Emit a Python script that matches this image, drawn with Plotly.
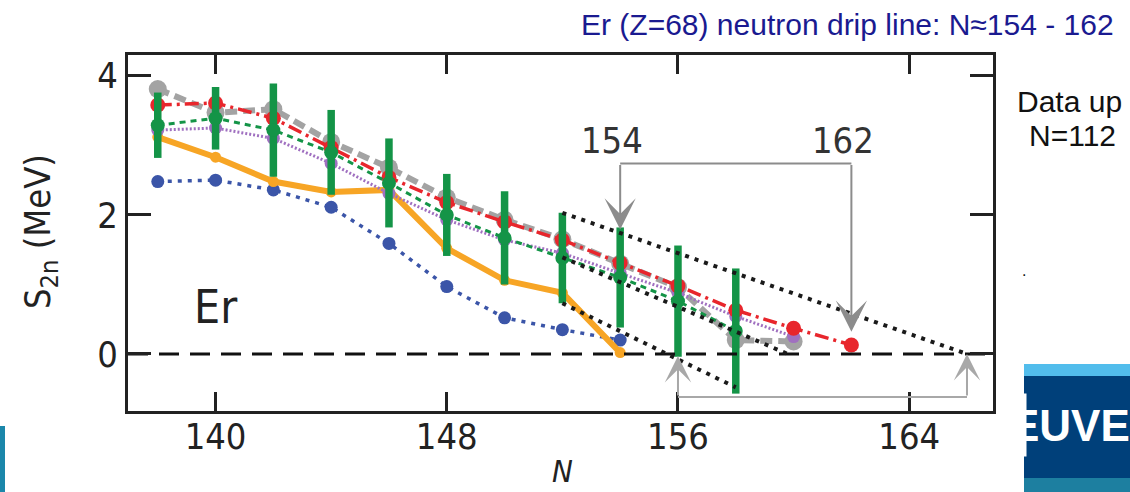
import plotly.graph_objects as go

# ---------------- data ----------------
N_gray = [138, 140, 142, 144, 146, 148, 150, 152, 154, 156, 158, 160]
S_gray = [3.81, 3.47, 3.52, 3.05, 2.68, 2.25, 1.93, 1.65, 1.30, 0.96, 0.20, 0.18]

N_red = [138, 140, 142, 144, 146, 148, 150, 152, 154, 156, 158, 160, 162]
S_red = [3.58, 3.61, 3.39, 2.97, 2.54, 2.18, 1.90, 1.64, 1.31, 0.98, 0.63, 0.37, 0.13]

N_purple = [138, 140, 142, 144, 146, 148, 150, 152, 154, 156, 158, 160]
S_purple = [3.22, 3.25, 3.10, 2.74, 2.31, 1.93, 1.64, 1.45, 1.16, 0.88, 0.54, 0.25]

N_green = [138, 140, 142, 144, 146, 148, 150, 152, 154, 156, 158]
S_green = [3.29, 3.39, 3.22, 2.90, 2.46, 2.00, 1.67, 1.38, 1.10, 0.76, 0.33]
E_green = [0.47, 0.45, 0.67, 0.61, 0.64, 0.59, 0.67, 0.65, 0.72, 0.80, 0.90]

N_orange = [138, 140, 142, 144, 146, 148, 150, 152, 154]
S_orange = [3.12, 2.83, 2.48, 2.33, 2.36, 1.52, 1.06, 0.88, 0.02]

N_blue = [138, 140, 142, 144, 146, 148, 150, 152, 154]
S_blue = [2.48, 2.50, 2.36, 2.11, 1.59, 0.97, 0.52, 0.35, 0.20]

# extrapolation lines (black dotted)
upper_N = [152, 166]
upper_S = [2.03, 0.0]
middle_N = [152, 159.8]
middle_S = [1.39, 0.0]
lower_N = [152, 158]
lower_S = [0.73, -0.48]

# drip-line arrows
drip_N = [154, 162]
drip_tip_S = [1.79, 0.32]
drip_bracket_S = 2.74
cross_N = [156, 166]
cross_tip_S = [-0.03, 0.0]
cross_bracket_S = -0.62

x_ticks = [140, 148, 156, 164]
y_ticks = [0, 2, 4]
x_range = [136.97, 166.9]
y_range = [-0.82, 4.30]

# ---------------- layout geometry ----------------
W, H = 1130, 492
L, R, T, B = 128, 993, 55, 411


def px(x):
    return (x - L) / (R - L)


def py(y):
    return (B - y) / (B - T)


NARROW = "Liberation Sans Narrow, Arial Narrow, DejaVu Sans Condensed, Arial, sans-serif"
SANS = "Liberation Sans, Arial, sans-serif"

fig = go.Figure()

# gray
fig.add_trace(go.Scatter(x=N_gray, y=S_gray, mode="lines+markers",
                         line=dict(color="#a3a3a3", width=6, dash="12px,6px"),
                         marker=dict(size=18, color="#a3a3a3"), showlegend=False))
# blue
fig.add_trace(go.Scatter(x=N_blue, y=S_blue, mode="lines+markers",
                         line=dict(color="#3b55a8", width=3.5, dash="4px,6px"),
                         marker=dict(size=13, color="#3b55a8"), showlegend=False))
# orange
fig.add_trace(go.Scatter(x=N_orange, y=S_orange, mode="lines+markers",
                         line=dict(color="#f7a525", width=6),
                         marker=dict(size=11, color="#f7a525"), showlegend=False))
# purple
fig.add_trace(go.Scatter(x=N_purple, y=S_purple, mode="lines+markers",
                         line=dict(color="#a070c0", width=3, dash="2px,2px"),
                         marker=dict(size=13, color="#a070c0"), showlegend=False))
# red
fig.add_trace(go.Scatter(x=N_red, y=S_red, mode="lines+markers",
                         line=dict(color="#e8262c", width=3.5, dash="14px,5px,3px,5px"),
                         marker=dict(size=15, color="#e8262c"), showlegend=False))
# green with error bars
fig.add_trace(go.Scatter(x=N_green, y=S_green, mode="lines+markers",
                         line=dict(color="#149447", width=3, dash="6px,5px"),
                         marker=dict(size=14, color="#149447"),
                         error_y=dict(type="data", array=E_green, color="#149447",
                                      thickness=7.5, width=0),
                         showlegend=False))

# zero line
fig.add_trace(go.Scatter(x=x_range, y=[0, 0], mode="lines",
                         line=dict(color="#111", width=3, dash="20px,11px"),
                         showlegend=False, hoverinfo="skip"))

# black dotted extrapolation lines
for xs, ys in [(upper_N, upper_S), (middle_N, middle_S), (lower_N, lower_S)]:
    fig.add_trace(go.Scatter(x=xs, y=ys, mode="lines",
                             line=dict(color="#1a1a1a", width=4, dash="4px,6px"),
                             showlegend=False, hoverinfo="skip"))

shapes = []
annotations = []

# brackets
shapes.append(dict(type="line", xref="x", yref="y", x0=drip_N[0], x1=drip_N[1],
                   y0=drip_bracket_S, y1=drip_bracket_S,
                   line=dict(color="#8c8c8c", width=2)))
shapes.append(dict(type="line", xref="x", yref="y", x0=cross_N[0], x1=cross_N[1],
                   y0=cross_bracket_S, y1=cross_bracket_S,
                   line=dict(color="#a8a8a8", width=2)))

for n, tip in zip(drip_N, drip_tip_S):
    annotations.append(dict(x=n, y=tip, xref="x", yref="y", axref="x", ayref="y",
                            ax=n, ay=drip_bracket_S, text="", showarrow=True,
                            arrowhead=3, arrowsize=2.6, arrowwidth=2,
                            arrowcolor="#8c8c8c"))
    annotations.append(dict(x=n - 0.3, y=3.07, xref="x", yref="y", text=str(n),
                            xanchor="center", yanchor="middle",
                            showarrow=False, font=dict(family=NARROW, size=36, color="#333")))
for n, tip in zip(cross_N, cross_tip_S):
    annotations.append(dict(x=n, y=tip, xref="x", yref="y", axref="x", ayref="y",
                            ax=n, ay=cross_bracket_S, text="", showarrow=True,
                            arrowhead=3, arrowsize=2.2, arrowwidth=2,
                            arrowcolor="#a8a8a8"))

# Er label
annotations.append(dict(x=139.2, y=0.67, xref="x", yref="y", xanchor="left", yanchor="middle",
                        text="Er", showarrow=False,
                        font=dict(family=NARROW, size=46, color="#222")))

# axis titles
annotations.append(dict(x=px(40), y=py(232), xref="paper", yref="paper",
                        xanchor="center", yanchor="middle",
                        text="S<sub>2n</sub> (MeV)", textangle=-90, showarrow=False,
                        font=dict(family=NARROW, size=36, color="#222")))
annotations.append(dict(x=px(562), y=py(471), xref="paper", yref="paper",
                        xanchor="center", yanchor="middle",
                        text="<i>N</i>", showarrow=False,
                        font=dict(family=NARROW, size=31, color="#222")))

# slide texts
annotations.append(dict(x=px(1116), y=py(25), xref="paper", yref="paper",
                        xanchor="right", yanchor="middle",
                        text="Er (Z=68) neutron drip line: N\u2248154 - 162", showarrow=False,
                        font=dict(family=SANS, size=30, color="#1a1a90")))
annotations.append(dict(x=px(1015), y=py(101), xref="paper", yref="paper",
                        xanchor="left", yanchor="middle",
                        text="Data up", showarrow=False,
                        font=dict(family=SANS, size=30, color="#111")))
annotations.append(dict(x=px(1027), y=py(135), xref="paper", yref="paper",
                        xanchor="left", yanchor="middle",
                        text="N=112", showarrow=False,
                        font=dict(family=SANS, size=30, color="#111")))
annotations.append(dict(x=px(1020), y=py(270), xref="paper", yref="paper",
                        xanchor="left", yanchor="middle",
                        text=".", showarrow=False,
                        font=dict(family=SANS, size=16, color="#111")))

# logo
shapes.append(dict(type="rect", xref="paper", yref="paper", x0=px(1024), x1=px(1135),
                   y0=py(492), y1=py(364), line=dict(width=0), fillcolor="#00407a", layer="above"))
shapes.append(dict(type="rect", xref="paper", yref="paper", x0=px(1024), x1=px(1135),
                   y0=py(376), y1=py(364), line=dict(width=0), fillcolor="#52bdec", layer="above"))
shapes.append(dict(type="rect", xref="paper", yref="paper", x0=px(1024), x1=px(1135),
                   y0=py(492), y1=py(478), line=dict(width=0), fillcolor="#1d7fa0", layer="above"))
annotations.append(dict(x=px(1008), y=py(425), xref="paper", yref="paper",
                        xanchor="left", yanchor="middle",
                        text="<b>EUVEN</b>", showarrow=False,
                        font=dict(family=SANS, size=44, color="white")))
annotations.append(dict(x=px(997), y=py(425), xref="paper", yref="paper",
                        xanchor="left", yanchor="middle",
                        text=" ", width=26, height=60, bgcolor="white", showarrow=False))
# left teal bar
shapes.append(dict(type="rect", xref="paper", yref="paper", x0=px(0), x1=px(5),
                   y0=py(492), y1=py(426), line=dict(width=0), fillcolor="#1b87aa", layer="above"))

axis_common = dict(showgrid=False, zeroline=False, showline=True, linewidth=3,
                   linecolor="#222", mirror="ticks", ticks="inside", tickwidth=3,
                   tickcolor="#222", tickfont=dict(family=NARROW, size=36, color="#222"))

fig.update_layout(
    width=W, height=H,
    margin=dict(l=L, r=W - R, t=T, b=H - B, pad=0),
    paper_bgcolor="white", plot_bgcolor="white",
    xaxis=dict(range=x_range, tickvals=x_ticks, ticklen=19, ticklabelstandoff=-8,
               **axis_common),
    yaxis=dict(range=y_range, tickvals=y_ticks, ticklen=23, **axis_common),
    shapes=shapes, annotations=annotations,
)

fig.write_html("out.html", config={"displayModeBar": False},
               post_script="document.body.style.margin='0px';")
